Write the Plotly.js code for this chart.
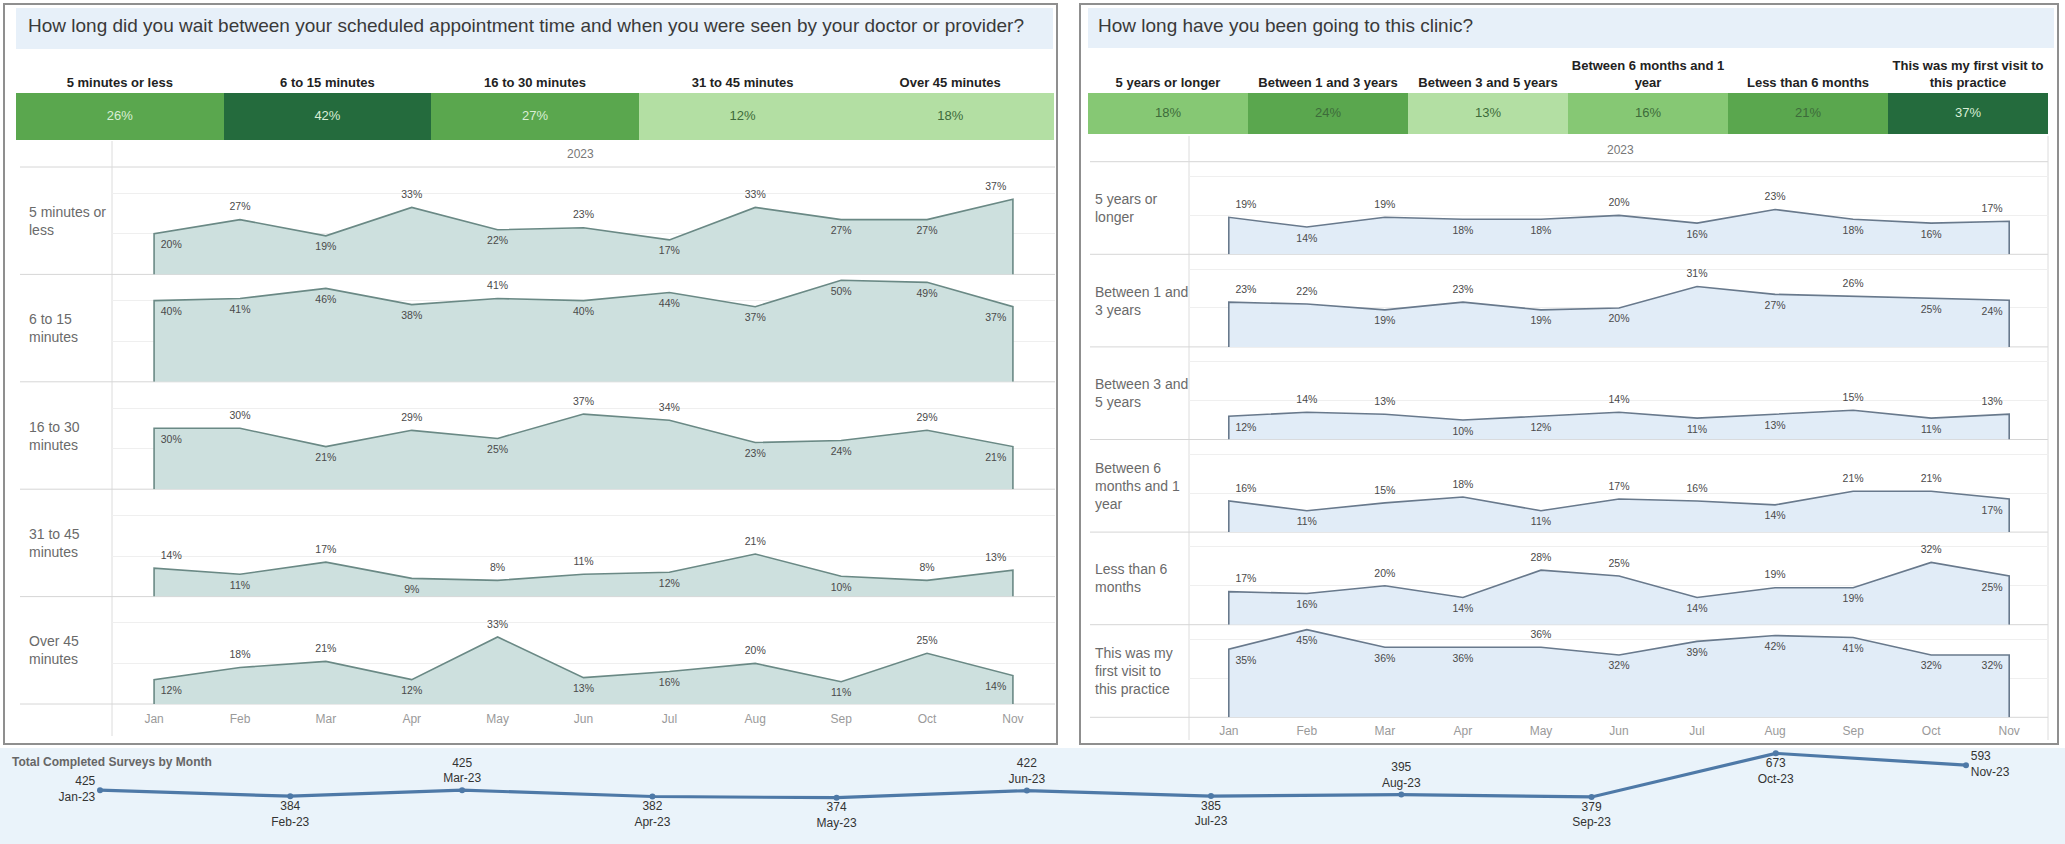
<!DOCTYPE html>
<html><head><meta charset="utf-8">
<script src="https://cdn.plot.ly/plotly-3.0.1.min.js"></script>
<style>html,body{margin:0;padding:0;background:#fff}#chart{width:2065px;height:844px}</style>
</head><body><div id="chart"></div><script>
// ---------------- DATA ----------------
const months = ['Jan','Feb','Mar','Apr','May','Jun','Jul','Aug','Sep','Oct','Nov'];

const waitTitle = 'How long did you wait between your scheduled appointment time and when you were seen by your doctor or provider?';
const waitCategories = ['5 minutes or less','6 to 15 minutes','16 to 30 minutes','31 to 45 minutes','Over 45 minutes'];
const waitRowLabels = ['5 minutes or<br>less','6 to 15<br>minutes','16 to 30<br>minutes','31 to 45<br>minutes','Over 45<br>minutes'];
const waitTotals = [26,42,27,12,18];
const wait5OrLess = [20,27,19,33,22,23,17,33,27,27,37];
const wait6to15   = [40,41,46,38,41,40,44,37,50,49,37];
const wait16to30  = [30,30,21,29,25,37,34,23,24,29,21];
const wait31to45  = [14,11,17,9,8,11,12,21,10,8,13];
const waitOver45  = [12,18,21,12,33,13,16,20,11,25,14];

const tenureTitle = 'How long have you been going to this clinic?';
const tenureCategories = ['5 years or longer','Between 1 and 3 years','Between 3 and 5 years','Between 6 months and 1<br>year','Less than 6 months','This was my first visit to<br>this practice'];
const tenureRowLabels = ['5 years or<br>longer','Between 1 and<br>3 years','Between 3 and<br>5 years','Between 6<br>months and 1<br>year','Less than 6<br>months','This was my<br>first visit to<br>this practice'];
const tenureTotals = [18,24,13,16,21,37];
const tenure5Plus   = [19,14,19,18,18,20,16,23,18,16,17];
const tenure1to3    = [23,22,19,23,19,20,31,27,26,25,24];
const tenure3to5    = [12,14,13,10,12,14,11,13,15,11,13];
const tenure6mTo1y  = [16,11,15,18,11,17,16,14,21,21,17];
const tenureUnder6m = [17,16,20,14,28,25,14,19,19,32,25];
const tenureFirst   = [35,45,36,36,36,32,39,42,41,32,32];

const surveyTitle = 'Total Completed Surveys by Month';
const surveyDates = ['2023-01-01','2023-02-01','2023-03-01','2023-04-01','2023-05-01','2023-06-01','2023-07-01','2023-08-01','2023-09-01','2023-10-01','2023-11-01'];
const surveyMonthLabels = ['Jan-23','Feb-23','Mar-23','Apr-23','May-23','Jun-23','Jul-23','Aug-23','Sep-23','Oct-23','Nov-23'];
const surveyCounts = [425,384,425,382,374,422,385,395,379,673,593];

// ---------------- STYLE ----------------
const FONT = 'Liberation Sans, Arial, sans-serif';
const W = 2065, H = 844;
const fx = v => v / W, fy = v => 1 - v / H;
// label placement (A = above, B = below)
const waitLabelSide = ['BABABABABBA','BBBBABBBBBB','BABABAABBAB','ABABAABABAA','BAABABBABAB'];
const tenureLabelSide = ['ABABBABABBA','AABABBABABB','BAABBABBABA','ABAABAABAAB','ABABAABABAB','BBBBABBBBBB'];
const surveyLabelPos = ['middle left','bottom center','top center','bottom center','bottom center','top center','bottom center','top center','bottom center','bottom center','middle right'];

const greens = {light:'#b3dfa3', lightMid:'#86c874', mid:'#5aa74e', dark:'#246b3d'};

const traces = [];
const layout = {
  width: W, height: H, margin: {l:0,r:0,t:0,b:0},
  paper_bgcolor: '#ffffff', plot_bgcolor: 'rgba(0,0,0,0)', showlegend: false,
  font: {family: FONT, color: '#333'},
  shapes: [], annotations: []
};
let axN = 0;
function newAxes(xd, yd, xopts, yopts) {
  axN++;
  const s = axN === 1 ? '' : String(axN);
  layout['xaxis' + s] = Object.assign({domain: [fx(xd[0]), fx(xd[1])], anchor: 'y' + s, fixedrange: true, zeroline: false, showgrid: false}, xopts);
  layout['yaxis' + s] = Object.assign({domain: [fy(yd[1]), fy(yd[0])], anchor: 'x' + s, fixedrange: true, zeroline: false, showgrid: false}, yopts);
  return {x: 'x' + s, y: 'y' + s};
}
function rect(x0, y0, x1, y1, fill, line, lw) {
  layout.shapes.push({type:'rect', xref:'paper', yref:'paper', x0:fx(x0), x1:fx(x1), y0:fy(y1), y1:fy(y0),
    fillcolor: fill || 'rgba(0,0,0,0)', line:{color: line || 'rgba(0,0,0,0)', width: lw || 0}, layer:'below'});
}
function hline(x0, x1, y, color) {
  layout.shapes.push({type:'line', xref:'paper', yref:'paper', x0:fx(x0), x1:fx(x1), y0:fy(y), y1:fy(y), line:{color, width:1}, layer:'below'});
}
function vline(x, y0, y1, color) {
  layout.shapes.push({type:'line', xref:'paper', yref:'paper', x0:fx(x), x1:fx(x), y0:fy(y0), y1:fy(y1), line:{color, width:1}, layer:'below'});
}
function ann(x, y, text, opts) {
  layout.annotations.push(Object.assign({xref:'paper', yref:'paper', x:fx(x), y:fy(y), text, showarrow:false,
    xanchor:'left', yanchor:'middle', align:'left', font:{family:FONT, size:13, color:'#333'}}, opts));
}
function stepScale(values, thresholds, colors) {
  const lo = Math.min(...values), hi = Math.max(...values);
  const sc = [[0, colors[0]]];
  thresholds.forEach((t, i) => {
    const p = Math.min(1, Math.max(0, (t - lo) / (hi - lo)));
    sc.push([p, colors[i]]); sc.push([p, colors[i + 1]]);
  });
  sc.push([1, colors[colors.length - 1]]);
  return {colorscale: sc, zmin: lo, zmax: hi};
}

function panel(cfg) {
  const P = cfg;
  // border & title band
  rect(P.box[0], P.box[1], P.box[2], P.box[3], '#ffffff', '#8f8f8f', 2);
  rect(P.band[0], P.band[1], P.band[2], P.band[3], '#e7f0f9');
  ann(P.titleX, P.titleY, P.title, {font:{family:FONT, size:19, color:'#3a3a3a'}});
  // header heatmap
  const hs = stepScale(P.totals, P.thresholds, P.palette);
  const ha = newAxes([P.hdrX0, P.hdrX1], [P.hdrY0, P.hdrY1],
    {type:'category', side:'top', ticks:'', showline:false, tickfont:{family:FONT, size:13, color:'#222', weight:'bold'}, ticklabelstandoff: 2},
    {type:'category', visible:false});
  traces.push({type:'heatmap', xaxis:ha.x, yaxis:ha.y, x:P.categories, y:['All'], z:[P.totals],
    colorscale: hs.colorscale, zmin: hs.zmin, zmax: hs.zmax, showscale:false, hoverinfo:'skip'});
  traces.push({type:'scatter', mode:'text', xaxis:ha.x, yaxis:ha.y, x:P.categories, y:P.categories.map(() => 'All'),
    text: P.totals.map(v => v + '%'), textposition:'middle center',
    textfont:{family:FONT, size:13, color: P.totals.map(v => v >= P.lightTextFrom ? '#d9eed5' : '#3d6b3a')}, hoverinfo:'skip'});
  // year header
  ann(P.yearX, P.yearY, '2023', {xanchor:'center', font:{family:FONT, size:12, color:'#777'}});
  hline(P.sepX0, P.sepX1, P.rowTop, '#d6d6d6');
  vline(P.divX, P.divY0, P.divY1, '#dcdcdc');
  // rows
  const n = P.series.length;
  const rowH = (P.rowBottom - P.rowTop) / n;
  P.series.forEach((vals, r) => {
    const y0 = P.rowTop + r * rowH, y1 = y0 + rowH;
    const last = r === n - 1;
    const a = newAxes([P.divX, P.plotX1], [y0, y1],
      {type:'category', categoryarray: months, categoryorder:'array', range:[-0.5 + P.pad, months.length - 0.5 - P.pad],
       showticklabels: last, ticks:'', tickfont:{family:FONT, size:12, color:'#9a9a9a'}, ticklabelstandoff: P.tickStandoff},
      {range:[0, rowH / P.pxPerPct], tickvals:[20,40], showgrid:true, gridcolor:'#efefef', gridwidth:1, showticklabels:false});
    hline(P.sepX0, P.sepX1, y1, '#d6d6d6');
    traces.push({type:'scatter', mode:'lines', xaxis:a.x, yaxis:a.y,
      x:[months[0]].concat(months, [months[months.length - 1]]),
      y:[0].concat(vals, [0]),
      fill:'toself', fillcolor:P.fill, line:{color:P.line, width:1.6}, hoverinfo:'skip'});
    const side = P.labelSide[r];
    traces.push({type:'scatter', mode:'markers+text', xaxis:a.x, yaxis:a.y, x:months, y:vals,
      marker:{size:9, opacity:0}, text: vals.map(v => v + '%'), cliponaxis:false,
      textposition: vals.map((v, i) => (side[i] === 'A' ? 'top ' : 'bottom ') + (i === 0 ? 'right' : i === vals.length - 1 ? 'left' : 'center')),
      textfont:{family:FONT, size:10.5, color:'#4a4a4a'}, hoverinfo:'skip'});
    ann(P.rowLabelX, (y0 + y1) / 2, P.rowLabels[r], {font:{family:FONT, size:14, color:'#6a6a6a'}});
  });
}

panel({
  title: waitTitle, box:[4,4,1057,744], band:[16,8,1053,49], titleX:26, titleY:25,
  categories: waitCategories, totals: waitTotals, thresholds:[20,30], palette:[greens.light, greens.mid, greens.dark], lightTextFrom: 25,
  hdrX0:16, hdrX1:1054, hdrY0:93, hdrY1:140,
  yearX:580, yearY:154, sepX0:20, sepX1:1055, divX:112, divY0:141, divY1:736, plotX1:1055,
  rowTop:167, rowBottom:704, pxPerPct:2.03, pad:0.01, tickStandoff:6,
  series:[wait5OrLess, wait6to15, wait16to30, wait31to45, waitOver45], labelSide: waitLabelSide,
  rowLabels: waitRowLabels, rowLabelX:27, fill:'#cde0de', line:'#6a8985'
});
panel({
  title: tenureTitle, box:[1080,4,2058,744], band:[1088,8,2054,48], titleX:1096, titleY:25,
  categories: tenureCategories, totals: tenureTotals, thresholds:[14,19,25], palette:[greens.light, greens.lightMid, greens.mid, greens.dark], lightTextFrom: 30,
  hdrX0:1088, hdrX1:2048, hdrY0:93, hdrY1:134,
  yearX:1620, yearY:150, sepX0:1090, sepX1:2048, divX:1189, divY0:136, divY1:740, plotX1:2049,
  rowTop:161.7, rowBottom:717.3, pxPerPct:1.947, pad:-0.01, tickStandoff:5,
  series:[tenure5Plus, tenure1to3, tenure3to5, tenure6mTo1y, tenureUnder6m, tenureFirst], labelSide: tenureLabelSide,
  rowLabels: tenureRowLabels, rowLabelX:1093, fill:'#e1ecf7', line:'#68798c'
});
vline(2048, 136, 740, '#dcdcdc');

// ---------------- bottom survey line ----------------
rect(0, 748, W, H, '#eaf3fa');
ann(10, 762, '<b>' + surveyTitle + '</b>', {font:{family:FONT, size:12, color:'#666'}});
const t0 = Date.UTC(2023,0,1), t1 = Date.UTC(2023,10,1);
const msPerPx = (t1 - t0) / (1966 - 100);
const toStr = ms => new Date(ms).toISOString().replace('T',' ').replace('Z','');
const sa = newAxes([0, W], [748, 844],
  {type:'date', range:[toStr(t0 - 100 * msPerPx), toStr(t1 + (W - 1966) * msPerPx)], visible:false},
  {range:[62, 709], visible:false});
traces.push({type:'scatter', mode:'lines+markers+text', xaxis:sa.x, yaxis:sa.y, x:surveyDates, y:surveyCounts,
  line:{color:'#4e79a7', width:3.2}, marker:{size:6, color:'#4e79a7'}, cliponaxis:false,
  text: surveyCounts.map((v, i) => v + '<br>' + surveyMonthLabels[i]), textposition: surveyLabelPos,
  textfont:{family:FONT, size:12, color:'#333'}, hoverinfo:'skip'});

Plotly.newPlot('chart', traces, layout, {displayModeBar:false, staticPlot:true});
</script></body></html>
